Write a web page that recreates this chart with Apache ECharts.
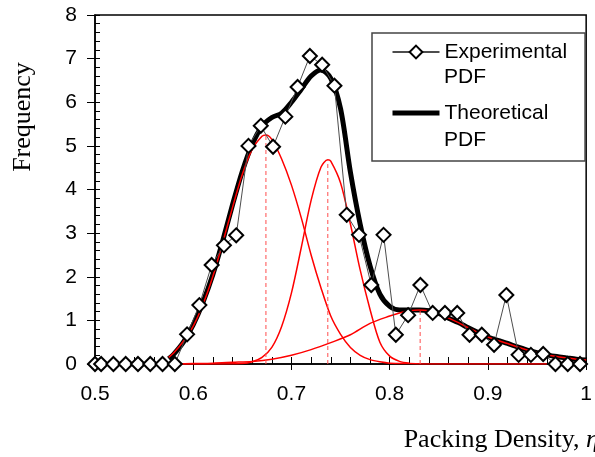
<!DOCTYPE html>
<html>
<head>
<meta charset="utf-8">
<script src="https://cdn.jsdelivr.net/npm/echarts@6/dist/echarts.min.js"></script>
<style>
  html, body { margin: 0; padding: 0; background: #fff; }
  #chart { width: 595px; height: 457px; }
</style>
</head>
<body>
<div id="chart"></div>
<script>
// experimental histogram (bin centres)
var expX = [0.5, 0.50625, 0.51875, 0.53125, 0.54375, 0.55625, 0.56875, 0.58125, 0.59375, 0.60625,
            0.61875, 0.63125, 0.64375, 0.65625, 0.66875, 0.68125, 0.69375, 0.70625, 0.71875, 0.73125,
            0.74375, 0.75625, 0.76875, 0.78125, 0.79375, 0.80625, 0.81875, 0.83125, 0.84375, 0.85625,
            0.86875, 0.88125, 0.89375, 0.90625, 0.91875, 0.93125, 0.94375, 0.95625, 0.96875, 0.98125, 0.99375];
var expY = [0, 0, 0, 0, 0, 0, 0, 0, 0.68, 1.35,
            2.27, 2.72, 2.95, 5.0, 5.46, 4.98, 5.67, 6.35, 7.06, 6.86,
            6.38, 3.42, 2.96, 1.81, 2.96, 0.67, 1.12, 1.81, 1.17, 1.17,
            1.17, 0.67, 0.67, 0.44, 1.58, 0.21, 0.21, 0.23, 0, 0, 0];

// theoretical pdf (sum)
var theoX = [0.575, 0.58, 0.59, 0.60, 0.61, 0.62, 0.63, 0.64, 0.65, 0.66, 0.67, 0.68, 0.69, 0.70, 0.71,
             0.72, 0.73, 0.74, 0.75, 0.76, 0.77, 0.78, 0.79, 0.80, 0.81, 0.82, 0.83, 0.84, 0.85, 0.86,
             0.87, 0.88, 0.89, 0.90, 0.91, 0.92, 0.93, 0.94, 0.95, 0.96, 0.97, 0.98, 0.99, 1.00];
var theoY = [0.12, 0.22, 0.5, 0.9, 1.42, 2.05, 2.82, 3.65, 4.42, 5.03, 5.45, 5.65, 5.75, 6.0, 6.3,
             6.6, 6.74, 6.55, 5.85, 4.4, 3.2, 2.25, 1.6, 1.32, 1.24, 1.24, 1.24, 1.22, 1.16, 1.05,
             0.95, 0.83, 0.72, 0.62, 0.54, 0.47, 0.39, 0.32, 0.26, 0.21, 0.17, 0.14, 0.11, 0.09];

// component peaks (red)
var g1X = [0.575, 0.58, 0.59, 0.60, 0.61, 0.62, 0.63, 0.64, 0.65, 0.66, 0.67, 0.674, 0.68, 0.69, 0.70,
           0.71, 0.72, 0.73, 0.74, 0.75, 0.76, 0.77, 0.78, 0.79, 0.80, 0.82, 0.85, 0.90, 0.96];
var g1Y = [0.15, 0.25, 0.52, 0.87, 1.37, 2.01, 2.78, 3.59, 4.35, 4.92, 5.22, 5.25, 5.15, 4.7, 4.1,
           3.35, 2.5, 1.75, 1.1, 0.68, 0.38, 0.2, 0.1, 0.05, 0.02, 0.01, 0, 0, 0];

var g2X = [0.58, 0.62, 0.65, 0.66, 0.67, 0.68, 0.69, 0.70, 0.71, 0.72, 0.73, 0.737, 0.74, 0.75, 0.76,
           0.77, 0.78, 0.79, 0.80, 0.81, 0.82];
var g2Y = [0, 0, 0.01, 0.05, 0.15, 0.38, 0.86, 1.63, 2.67, 3.75, 4.51, 4.68, 4.65, 4.15, 3.21,
           2.15, 1.25, 0.5, 0.18, 0.06, 0.02];

var g3X = [0.58, 0.60, 0.62, 0.64, 0.66, 0.68, 0.70, 0.72, 0.74, 0.76, 0.78, 0.80, 0.81, 0.82, 0.83,
           0.84, 0.85, 0.86, 0.87, 0.88, 0.89, 0.90, 0.91, 0.92, 0.93, 0.94, 0.95, 0.96, 0.97, 0.98, 0.99, 1.00];
var g3Y = [0, 0.01, 0.02, 0.04, 0.06, 0.11, 0.2, 0.33, 0.49, 0.67, 0.93, 1.1, 1.17, 1.22, 1.24,
           1.22, 1.16, 1.05, 0.95, 0.83, 0.72, 0.62, 0.54, 0.47, 0.39, 0.32, 0.26, 0.21, 0.17, 0.14, 0.11, 0.09];

// dashed markers at the peak positions
var peakX = [0.674, 0.737, 0.831];
var peakY = [5.25, 4.68, 1.24];

function pairs(xs, ys) {
    return xs.map(function (x, i) { return [x, ys[i]]; });
}

var sans = "'Liberation Sans', Arial, sans-serif";
var serif = "'Liberation Serif', 'Times New Roman', serif";

var myChart = echarts.init(document.getElementById('chart'));

var series = [{
    name: 'Theoretical',
    type: 'line',
    data: pairs(theoX, theoY),
    symbol: 'none',
    smooth: 0.3,
    lineStyle: { color: '#000', width: 5 },
    itemStyle: { color: '#000' },
    z: 2
}];

[[g1X, g1Y], [g2X, g2Y], [g3X, g3Y]].forEach(function (g) {
    series.push({
        type: 'line',
        data: pairs(g[0], g[1]),
        symbol: 'none',
        smooth: 0.3,
        lineStyle: { color: '#ff0000', width: 1.5 },
        silent: true,
        z: 3
    });
});

peakX.forEach(function (px, i) {
    series.push({
        type: 'line',
        data: [[px, 0], [px, peakY[i]]],
        symbol: 'none',
        lineStyle: { color: '#ff4d4d', width: 1, type: [4, 3] },
        silent: true,
        z: 3
    });
});

series.push({
    name: 'Experimental',
    type: 'line',
    data: pairs(expX, expY),
    symbol: 'diamond',
    symbolSize: 14,
    lineStyle: { color: '#4d4d4d', width: 1 },
    itemStyle: { color: '#fff', borderColor: '#000', borderWidth: 2 },
    z: 4
});

option = {
    animation: false,
    grid: {
        left: 95, right: 3, top: 15, bottom: 93,
        show: true, borderColor: '#000', borderWidth: 1.5
    },
    legend: {
        data: [
            { name: 'Experimental' },
            { name: 'Theoretical', itemStyle: { opacity: 0 }, lineStyle: { width: 5, color: '#000' } }
        ],
        orient: 'vertical',
        left: 372, top: 33,
        padding: [5.5, 18, 34.5, 18],
        itemGap: 34,
        itemWidth: 47,
        itemHeight: 16,
        borderColor: '#444',
        borderWidth: 1.5,
        backgroundColor: '#fff',
        textStyle: { fontFamily: sans, fontSize: 21, color: '#000', lineHeight: 27 }
    },
    xAxis: [{
        type: 'value', min: 0.5, max: 1, interval: 0.1,
        axisLine: { lineStyle: { color: '#000', width: 1.5 } },
        axisTick: { inside: true, length: 7, lineStyle: { color: '#000' } },
        minorTick: { show: true, splitNumber: 5, length: 7, lineStyle: { color: '#000' } },
        splitLine: { show: false },
        axisLabel: { margin: 20, fontFamily: sans, fontSize: 21, color: '#000' }
    }, {
        type: 'value', min: 0.5, max: 1, interval: 0.1, position: 'bottom',
        axisLine: { show: false },
        axisTick: { inside: false, length: 6, lineStyle: { color: '#000' } },
        splitLine: { show: false },
        axisLabel: { show: false }
    }],
    yAxis: [{
        type: 'value', min: 0, max: 8, interval: 1,
        axisLine: { show: true, lineStyle: { color: '#000', width: 1.5 } },
        axisTick: { show: true, inside: true, length: 5, lineStyle: { color: '#000' } },
        minorTick: { show: true, splitNumber: 5, length: 5, lineStyle: { color: '#000' } },
        splitLine: { show: false },
        axisLabel: { margin: 18, fontFamily: sans, fontSize: 21, color: '#000' }
    }, {
        type: 'value', min: 0, max: 8, interval: 1, position: 'left',
        axisLine: { show: false },
        axisTick: { show: true, inside: false, length: 8, lineStyle: { color: '#000' } },
        splitLine: { show: false },
        axisLabel: { show: false }
    }],
    graphic: [{
        type: 'text', x: 23, y: 117, rotation: Math.PI / 2, z: 10,
        style: { text: 'Frequency', fontFamily: serif, fontSize: 26, fill: '#000',
                 align: 'center', verticalAlign: 'middle' }
    }, {
        type: 'text', x: 599, y: 440, z: 10,
        style: {
            text: '{n|Packing Density, }{e|η}',
            align: 'right', verticalAlign: 'middle',
            rich: {
                n: { fontFamily: serif, fontSize: 26, fill: '#000' },
                e: { fontFamily: serif, fontSize: 26, fontStyle: 'italic', fill: '#000' }
            }
        }
    }, {
        type: 'text', x: 444, y: 77, z: 10,
        style: { text: 'PDF', fontFamily: sans, fontSize: 21, fill: '#000', verticalAlign: 'middle' }
    }, {
        type: 'text', x: 444, y: 140, z: 10,
        style: { text: 'PDF', fontFamily: sans, fontSize: 21, fill: '#000', verticalAlign: 'middle' }
    }],
    series: series
};

myChart.setOption(option);
</script>
</body>
</html>
